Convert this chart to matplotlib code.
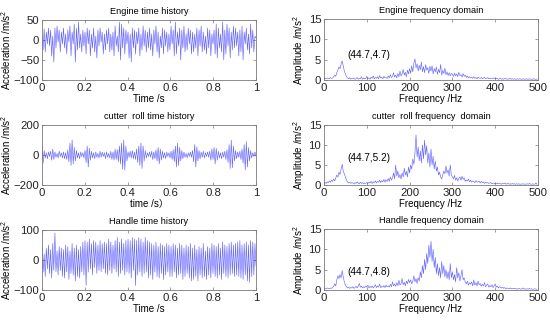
import numpy as np
import matplotlib
matplotlib.use("Agg")
import matplotlib.pyplot as plt

plt.rcParams['font.family'] = ['Liberation Sans', 'Noto Sans CJK SC', 'DejaVu Sans']
plt.rcParams['mathtext.fontset'] = 'custom'
plt.rcParams['mathtext.rm'] = 'Liberation Sans'
plt.rcParams['mathtext.it'] = 'Liberation Sans:italic'

# ---------------- time histories (200 samples over 1 s) ----------------
engine_time = [
    5,-25,28,-30,20,-10,30,-15,25,-40,10,-55,30,-20,35,-5,25,-30,20,-10,
    30,-20,15,-35,25,-5,35,-40,20,-10,40,-55,30,-25,45,-20,15,-30,25,-15,
    20,-35,30,-10,25,-40,15,-20,30,-30,10,-45,25,-15,30,-5,20,-35,15,-25,
    25,-10,30,-30,15,-25,20,-40,35,-15,10,-30,45,-50,40,-20,30,-35,25,-10,
    20,-45,15,-55,30,-20,25,-35,20,-10,30,-40,15,-25,35,-15,25,-30,20,-20,
    30,-25,15,-40,25,-10,35,-30,20,-45,10,-20,30,-35,25,-15,20,-30,15,-25,
    35,-10,25,-40,45,-35,20,-15,30,-50,25,-20,35,-30,15,-25,30,-10,25,-35,
    20,-30,15,-20,30,-40,25,-15,35,-30,20,-25,10,-35,30,-20,25,-40,15,-10,
    25,-35,40,-45,30,-20,15,-30,45,-50,25,-35,40,-15,30,-45,20,-25,35,-20,
    30,-15,20,-40,25,-30,35,-50,20,-10,30,-25,15,-35,40,-20,25,-30,10,5,
]
cutter_time = [
    60,-55,30,-20,15,-25,20,-10,25,-35,40,-30,20,-15,10,-20,25,-10,15,-20,
    20,-25,15,-30,35,-45,80,-70,100,-60,50,-40,30,-20,15,-25,20,-10,15,-20,
    30,-50,60,-80,45,-35,25,-20,15,-25,20,-15,10,-20,25,-15,20,-10,15,-25,
    20,-15,10,-20,25,-30,20,-35,40,-30,35,-45,60,-60,80,-95,100,-100,60,-40,
    20,-15,25,-20,30,-25,20,-30,40,-50,60,-70,80,-90,60,-40,30,-20,15,-10,
    20,-15,25,-30,20,-25,35,-40,50,-60,40,-35,25,-20,15,-25,20,-10,15,-20,
    25,-30,35,-45,60,-80,80,-70,50,-40,30,-25,20,-15,10,-20,15,-10,20,-15,
    30,-45,70,-80,55,-40,30,-25,20,-15,25,-20,15,-10,20,-15,25,-35,40,-30,
    50,-60,45,-35,25,-20,15,-25,20,-15,25,-30,35,-50,70,-90,100,-85,60,-40,
    30,-25,20,-15,25,-30,40,-55,70,-100,90,-80,50,-40,30,-20,15,-10,20,-5,
]
handle_time = [
    45,-40,20,-55,40,-30,50,-45,35,-60,55,-35,90,-40,30,-50,45,-35,40,-55,
    35,-60,50,-40,45,-65,30,-45,55,-50,40,-70,50,-55,35,-60,45,-40,60,-50,
    65,-85,60,-40,70,-30,55,-50,65,-25,60,-45,50,-35,65,-40,55,-30,60,-45,
    55,-50,70,-35,60,-45,50,-30,65,-40,75,-55,60,-45,70,-35,55,-50,65,-40,
    70,-45,65,-60,75,-35,70,-85,65,-50,75,-40,70,-55,60,-45,75,-40,65,-60,
    60,-50,55,-65,50,-40,60,-55,45,-60,55,-45,50,-65,45,-50,55,-40,50,-55,
    45,-55,55,-40,50,-60,40,-50,55,-45,50,-65,40,-55,50,-45,45,-60,55,-70,
    40,-65,50,-55,35,-70,45,-50,40,-60,55,-55,30,-65,45,-50,40,-60,55,-45,
    50,-55,45,-60,55,-50,40,-65,60,-45,50,-55,45,-60,55,-50,60,-45,50,-55,
    55,-50,60,-55,65,-60,50,-65,55,-50,60,-70,50,-75,65,-55,60,-50,55,-20,
]

# ---------------- amplitude spectra (200 bins over 0-500 Hz) ----------------
engine_freq = [
    0.3,0.4,0.3,0.5,0.4,0.3,0.6,0.4,0.5,0.8,1.2,0.9,1.8,2.5,3.2,2.8,3.9,4.7,3.5,2.2,
    1.5,0.8,0.5,0.3,0.6,0.2,0.4,0.3,0.5,0.2,0.3,0.6,0.2,0.4,0.3,0.8,0.2,0.5,0.3,0.4,
    0.9,0.3,0.5,0.2,0.7,0.4,1.0,0.3,0.6,0.4,0.8,0.3,1.1,0.5,0.7,0.3,0.9,0.5,0.6,0.4,
    1.0,0.5,1.3,0.6,0.9,1.8,0.7,1.2,0.5,1.6,0.8,2.2,1.0,1.5,2.6,1.2,1.9,0.8,2.4,1.5,
    2.8,1.6,3.5,2.0,4.2,5.2,3.0,4.0,2.2,3.6,2.5,4.4,2.0,3.3,1.8,3.8,2.4,3.0,1.6,3.4,
    2.2,3.5,1.5,2.8,2.0,3.2,1.4,2.6,1.8,3.8,1.2,2.4,1.6,2.9,1.3,2.0,1.1,1.8,1.0,1.6,
    1.4,0.9,1.7,1.0,1.5,0.8,1.9,1.1,1.3,0.7,1.6,0.9,1.2,0.6,1.0,0.5,0.8,0.6,0.7,0.4,
    0.8,0.4,0.6,0.3,0.7,0.5,0.4,0.6,0.3,0.5,0.7,0.3,0.4,0.6,0.3,0.5,0.4,0.3,0.5,0.4,
    0.5,0.3,0.4,0.2,0.3,0.4,0.2,0.3,0.2,0.4,0.3,0.2,0.3,0.2,0.4,0.2,0.3,0.2,0.3,0.2,
    0.2,0.3,0.2,0.3,0.2,0.2,0.3,0.2,0.2,0.3,0.2,0.2,0.3,0.2,0.2,0.2,0.3,0.2,0.2,0.2,
]
cutter_freq = [
    0.5,0.7,0.4,0.8,0.6,1.0,0.7,1.2,0.9,1.5,1.0,1.8,2.5,2.0,3.2,2.6,4.0,5.2,3.4,2.8,
    2.0,1.2,0.8,0.5,0.7,0.4,0.6,0.5,0.3,0.6,0.4,0.8,0.5,0.3,0.7,0.4,0.6,0.3,0.5,0.4,
    0.6,0.4,0.7,0.5,0.9,0.4,0.8,0.6,1.0,0.5,0.9,0.7,1.2,0.6,1.1,0.8,1.4,0.7,1.3,0.9,
    1.6,0.9,2.0,1.2,1.8,3.0,1.5,5.0,2.2,3.5,1.8,2.6,1.5,3.0,2.0,4.2,2.5,3.4,2.0,4.5,
    3.0,5.0,4.0,6.5,5.2,8.0,12.5,7.0,9.5,6.0,8.5,5.5,10.0,6.5,11.2,7.5,9.8,5.5,8.0,4.5,
    9.0,5.0,7.2,4.0,6.0,3.5,4.5,2.5,3.2,2.0,1.5,2.5,3.5,2.8,4.8,3.0,3.8,2.2,5.0,2.5,
    2.0,1.5,2.4,1.2,1.8,1.0,1.6,2.0,1.2,2.2,1.4,1.8,0.9,1.3,1.0,1.5,0.8,1.2,0.7,1.0,
    0.9,0.6,1.1,0.7,0.8,1.0,0.5,0.9,0.6,0.8,0.4,0.7,0.5,0.6,0.4,0.5,0.6,0.3,0.5,0.4,
    0.4,0.3,0.5,0.3,0.4,0.3,0.2,0.4,0.3,0.5,0.2,0.3,0.4,0.2,0.3,0.2,0.4,0.2,0.3,0.2,
    0.3,0.2,0.3,0.2,0.2,0.3,0.2,0.3,0.2,0.2,0.3,0.2,0.4,0.2,0.2,0.3,0.2,0.2,0.5,0.2,
]
handle_freq = [
    0.3,0.4,0.3,0.5,0.4,0.3,0.5,0.4,0.6,0.9,1.5,1.0,2.5,3.5,2.8,3.8,3.0,4.8,3.2,2.0,
    1.2,0.8,0.5,0.7,0.4,0.6,0.5,0.8,0.4,0.6,0.9,0.5,1.0,1.6,0.7,0.9,0.5,0.8,0.6,1.0,
    0.7,1.2,0.5,0.9,0.6,1.0,0.5,0.8,1.3,0.6,1.0,0.7,1.5,0.6,0.9,0.7,1.1,0.6,1.2,0.8,
    1.0,0.7,1.4,0.8,2.0,1.0,1.5,0.9,1.8,1.1,2.4,1.2,1.6,2.8,1.3,1.9,1.0,2.2,1.5,2.6,
    1.8,2.5,1.5,2.2,3.5,2.0,2.8,1.6,3.0,2.2,4.5,3.0,6.0,4.0,7.5,5.0,9.0,6.5,11.0,8.0,
    12.0,7.0,10.0,5.5,8.0,4.0,6.5,3.5,5.5,3.0,7.0,4.0,6.0,3.2,5.0,2.8,4.5,2.5,6.5,3.0,
    4.5,2.5,3.8,2.0,5.5,3.0,4.2,2.2,3.5,5.0,2.5,3.0,2.0,1.5,2.2,1.2,1.8,1.4,2.0,1.0,
    2.5,1.2,1.8,1.0,2.2,1.3,1.6,0.9,1.4,1.0,1.8,0.8,1.2,1.5,0.7,1.1,0.8,1.3,0.6,1.0,
    1.5,0.7,1.0,0.5,0.8,0.6,0.5,0.7,0.4,0.6,0.3,0.5,0.4,0.3,0.5,0.3,0.4,0.3,0.4,0.3,
    0.3,0.2,0.4,0.3,0.2,0.3,0.5,0.2,0.3,0.2,0.3,0.2,0.4,0.2,0.3,0.2,0.2,0.3,0.2,0.2,
]

time_titles = ["Engine time history", "cutter  roll time history", "Handle time history"]
freq_titles = ["Engine frequency domain", "cutter  roll frequency  domain", "Handle frequency domain"]
time_xlabels = ["Time /s", "time /s）", "Time /s"]
time_ylims = [(-100, 50), (-200, 200), (-100, 100)]
time_yticks = [[-100, -50, 0, 50], [-200, 0, 200], [-100, 0, 100]]
peak_labels = ["(44.7,4.7)", "(44.7,5.2)", "(44.7,4.8)"]
label_y = [6.2, 6.8, 4.5]

W, H = 550, 320
fig = plt.figure(figsize=(W / 100, H / 100), dpi=100)

left_rows = [(20, 80), (125, 185), (230, 290)]
right_rows = [(19, 80), (125, 185), (229, 290)]
lx0, lx1 = 42, 256
rx0, rx1 = 324, 538

tick_fs = 8.2
title_fs = 6.6
label_fs = 7.0
ann_fs = 7.2
line_kw = dict(color=(0, 0, 1), lw=0.45, alpha=0.6)
spine_col = '#7a7a7a'

def style(ax):
    for s in ax.spines.values():
        s.set_color(spine_col)
        s.set_linewidth(0.6)
    ax.tick_params(direction='in', top=True, right=True, length=2.5, width=0.5,
                   labelsize=tick_fs, colors=spine_col, labelcolor='#222222', pad=2)

times = [engine_time, cutter_time, handle_time]
freqs = [engine_freq, cutter_freq, handle_freq]

for i in range(3):
    t0, t1 = left_rows[i]
    ax = fig.add_axes([lx0 / W, 1 - t1 / H, (lx1 - lx0) / W, (t1 - t0) / H])
    y = np.array(times[i], dtype=float)
    t = np.linspace(0, 1, len(y))
    ax.plot(t, y, **line_kw)
    ax.set_xlim(0, 1)
    ax.set_ylim(*time_ylims[i])
    ax.set_xticks([0, 0.2, 0.4, 0.6, 0.8, 1])
    ax.set_xticklabels(['0', '0.2', '0.4', '0.6', '0.8', '1'])
    ax.set_yticks(time_yticks[i])
    ax.set_yticklabels([str(v).replace('-', '\u2212') for v in time_yticks[i]])
    ax.set_title(time_titles[i], fontsize=title_fs, pad=4)
    ax.set_xlabel(time_xlabels[i], fontsize=label_fs, labelpad=1)
    ax.set_ylabel(r'Acceleration /m/s$^2$', fontsize=label_fs, labelpad=0)
    style(ax)

    r0, r1 = right_rows[i]
    ax2 = fig.add_axes([rx0 / W, 1 - r1 / H, (rx1 - rx0) / W, (r1 - r0) / H])
    a = np.array(freqs[i], dtype=float)
    f = np.linspace(0, 500, len(a), endpoint=False)
    ax2.plot(f, a, **line_kw)
    ax2.set_xlim(0, 500)
    ax2.set_ylim(0, 15)
    ax2.set_xticks([0, 100, 200, 300, 400, 500])
    ax2.set_yticks([0, 5, 10, 15])
    ax2.set_title(freq_titles[i], fontsize=title_fs, pad=4)
    ax2.set_xlabel('Frequency /Hz', fontsize=label_fs, labelpad=1)
    ax2.set_ylabel(r'Amplitude /m/s$^2$', fontsize=label_fs, labelpad=1)
    ax2.text(54, label_y[i], peak_labels[i], fontsize=ann_fs, va='center', ha='left')
    style(ax2)

fig.savefig('out.png', dpi=100)
